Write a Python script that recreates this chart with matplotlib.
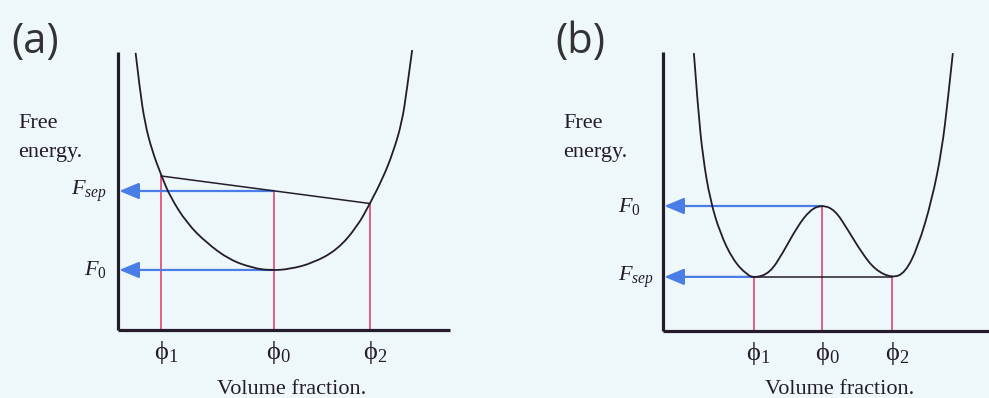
import matplotlib
matplotlib.use("Agg")
import matplotlib.pyplot as plt
from matplotlib.path import Path
from matplotlib.patches import PathPatch

plt.rcParams['mathtext.fontset'] = 'custom'
plt.rcParams['mathtext.rm'] = 'Liberation Serif'
plt.rcParams['mathtext.it'] = 'Liberation Serif:italic'

# composition axis (fraction of the drawn axis) and free energy (arbitrary units)
# panel (a): single well, mixing lowers the free energy
phi_a = [0.13, 0.47, 0.759]          # phi1, phi0, phi2
F0_a = 0.216
Fsep_a = 0.50
tie_a = [0.554, 0.455]               # free energy of the two phases at phi1, phi2
curve_a_x = [0.053, 0.066, 0.081, 0.102, 0.132, 0.157, 0.207, 0.267, 0.337, 0.407,
             0.458, 0.518, 0.587, 0.660, 0.720, 0.759, 0.798, 0.828, 0.855, 0.870, 0.886]
curve_a_y = [0.997, 0.863, 0.745, 0.647, 0.551, 0.480, 0.385, 0.313, 0.252, 0.223,
             0.214, 0.219, 0.241, 0.288, 0.371, 0.455, 0.547, 0.637, 0.745, 0.863, 1.007]

# panel (b): double well, demixing lowers the free energy
phi_b = [0.274, 0.480, 0.690]
F0_b = 0.448
Fsep_b = 0.194
curve_b_x = [0.093, 0.105, 0.120, 0.142, 0.172, 0.211, 0.253, 0.277, 0.322, 0.361,
             0.404, 0.443, 0.479, 0.518, 0.557, 0.599, 0.639, 0.690, 0.729, 0.768,
             0.810, 0.840, 0.858, 0.873]
curve_b_y = [0.996, 0.803, 0.624, 0.470, 0.351, 0.254, 0.201, 0.190, 0.208, 0.280,
             0.373, 0.434, 0.452, 0.434, 0.362, 0.280, 0.219, 0.190, 0.208, 0.301,
             0.470, 0.649, 0.828, 0.996]

phi_labels = [r'$\mathrm{ϕ}_{1}$', r'$\mathrm{ϕ}_{0}$', r'$\mathrm{ϕ}_{2}$']

bg = '#eef8fb'
ink = '#241c2b'
blue = '#4a7de6'
red = '#e4527c'
serif = 'Liberation Serif'

W, H = 989, 398
fig = plt.figure(figsize=(W / 100, H / 100), dpi=100, facecolor=bg)


def px_axes(x0, y0, x1, y1):
    return fig.add_axes([x0 / W, 1 - y1 / H, (x1 - x0) / W, (y1 - y0) / H])


def setup(ax):
    ax.set_xlim(0, 1)
    ax.set_ylim(0, 1)
    ax.patch.set_alpha(0)
    for s in ['top', 'right']:
        ax.spines[s].set_visible(False)
    for s in ['left', 'bottom']:
        ax.spines[s].set_linewidth(2.3)
        ax.spines[s].set_color(ink)
        ax.spines[s].set_capstyle('butt')
    ax.set_xticks([])
    ax.set_yticks([])


def smooth_curve(ax, xs, ys):
    # quadratic bezier through the sampled points (points act as control vertices)
    pts = list(zip(xs, ys))
    verts = [pts[0]]
    codes = [Path.MOVETO]
    n = len(pts)
    for i in range(1, n - 1):
        if i < n - 2:
            end = ((pts[i][0] + pts[i + 1][0]) / 2, (pts[i][1] + pts[i + 1][1]) / 2)
        else:
            end = pts[-1]
        verts += [pts[i], end]
        codes += [Path.CURVE3, Path.CURVE3]
    patch = PathPatch(Path(verts, codes), fill=False, edgecolor=ink, lw=1.3,
                      zorder=3, clip_on=False)
    ax.add_patch(patch)


def arrow(ax, x_start, F):
    ax.annotate('', xy=(0.004, F), xytext=(x_start, F),
                arrowprops=dict(arrowstyle='-|>,head_length=0.6,head_width=0.25',
                                color=blue, lw=1.6, shrinkA=0, shrinkB=0,
                                mutation_scale=20), zorder=2)


def phi_ticks(ax, phis):
    for p, lab in zip(phis, phi_labels):
        ax.text(p + 0.014, -0.08, lab, ha='center', va='center',
                fontsize=19, color=ink)


# ---- (a)
ax = px_axes(118, 52, 450, 330)
setup(ax)
ax.vlines(phi_a, 0, [tie_a[0], Fsep_a, tie_a[1]], color=red, lw=1.3, zorder=1)
arrow(ax, phi_a[1], Fsep_a)
arrow(ax, phi_a[1], F0_a)
ax.plot([phi_a[0], phi_a[2]], tie_a, color=ink, lw=1.1, zorder=3)
smooth_curve(ax, curve_a_x, curve_a_y)
ytr = ax.get_yaxis_transform()
ax.text(-0.033, Fsep_a, r'$F_{sep}$', transform=ytr, ha='right', va='center',
        fontsize=16, color=ink)
ax.text(-0.033, F0_a, r'$F_{0}$', transform=ytr, ha='right', va='center',
        fontsize=16, color=ink)
phi_ticks(ax, phi_a)

# ---- (b)
bx = px_axes(663, 52, 995, 331)
setup(bx)
bx.vlines(phi_b, 0, [Fsep_b, F0_b, Fsep_b], color=red, lw=1.3, zorder=1)
arrow(bx, phi_b[1], F0_b)
arrow(bx, phi_b[0], Fsep_b)
bx.plot([phi_b[0], phi_b[2]], [Fsep_b, Fsep_b], color=ink, lw=1.1, zorder=3)
smooth_curve(bx, curve_b_x, curve_b_y)
ytr = bx.get_yaxis_transform()
bx.text(-0.1355, F0_b, r'$F_{0}$', transform=ytr, ha='left', va='center',
        fontsize=16, color=ink)
bx.text(-0.1355, Fsep_b, r'$F_{sep}$', transform=ytr, ha='left', va='center',
        fontsize=16, color=ink)
phi_ticks(bx, phi_b)

# panel letters and axis captions
for x, letter in [(11, '(a)'), (555, '(b)')]:
    fig.text(x / W, 1 - 53 / H, letter, fontsize=30, family='Open Sans',
             color='#333333', va='baseline', ha='left')
for x in [18, 563]:
    fig.text(x / W, 1 - 128 / H, 'Free', fontsize=16, family=serif,
             color=ink, va='baseline')
    fig.text(x / W, 1 - 157 / H, 'energy.', fontsize=16, family=serif,
             color=ink, va='baseline')
for x in [292, 840]:
    fig.text(x / W, 1 - 394 / H, 'Volume fraction.', fontsize=16, family=serif,
             color=ink, va='baseline', ha='center')

fig.savefig('out.png', dpi=100, facecolor=bg)
